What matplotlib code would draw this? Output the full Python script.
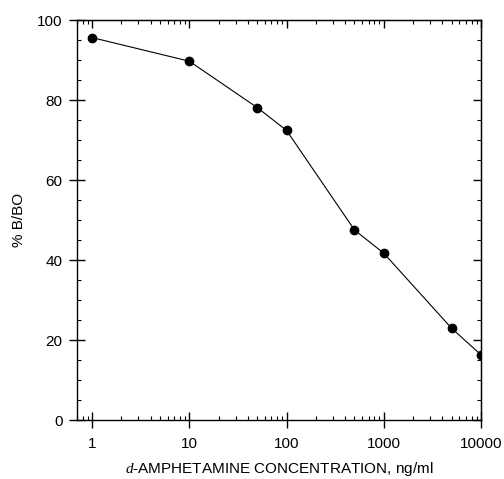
import matplotlib
matplotlib.use("Agg")
import matplotlib.pyplot as plt
from matplotlib.ticker import LogLocator, MultipleLocator, FixedLocator, NullFormatter

plt.rcParams['font.family'] = ['Liberation Sans', 'DejaVu Sans']
plt.rcParams['mathtext.fontset'] = 'custom'
plt.rcParams['mathtext.it'] = 'Liberation Serif:italic'
plt.rcParams['mathtext.rm'] = 'Liberation Sans'

concentration = [1, 10, 50, 100, 500, 1000, 5000, 10000]
percent_b_bo = [95.6, 89.7, 78.1, 72.4, 47.5, 41.7, 22.9, 16.3]
x_ticks = [1, 10, 100, 1000, 10000]
x_tick_labels = ['1', '10', '100', '1000', '10000']
y_ticks = [0, 20, 40, 60, 80, 100]

fig = plt.figure(figsize=(5.04, 4.79), dpi=100)
ax = fig.add_axes([77/504, 59/479, 404/504, 400/479])

ax.plot(concentration, percent_b_bo, color='black', lw=0.8, marker='o',
        markersize=6, markerfacecolor='black', markeredgecolor='black')

ax.set_xscale('log')
ax.set_xlim(0.7, 10000)
ax.set_ylim(0, 100)

ax.xaxis.set_major_locator(FixedLocator(x_ticks))
ax.set_xticklabels(x_tick_labels)
ax.xaxis.set_minor_locator(LogLocator(base=10, subs=range(2, 10)))
ax.xaxis.set_minor_formatter(NullFormatter())
ax.yaxis.set_major_locator(FixedLocator(y_ticks))
ax.yaxis.set_minor_locator(MultipleLocator(5))

for s in ax.spines.values():
    s.set_linewidth(1.0)

ax.tick_params(which='major', direction='inout', length=11, width=1.0,
               labelsize=11, top=False, right=False)
ax.tick_params(axis='x', which='major', pad=7)
ax.tick_params(axis='y', which='major', pad=5)
ax.tick_params(which='minor', direction='in', length=3, width=0.8,
               top=False, right=False)

# top / right inward ticks
secx = ax.secondary_xaxis('top')
secx.xaxis.set_major_locator(FixedLocator(x_ticks))
secx.xaxis.set_minor_locator(LogLocator(base=10, subs=range(2, 10)))
secx.xaxis.set_major_formatter(NullFormatter())
secx.xaxis.set_minor_formatter(NullFormatter())
secx.tick_params(which='major', direction='in', length=5.5, width=1.0)
secx.tick_params(which='minor', direction='in', length=3, width=0.8)

secy = ax.secondary_yaxis('right')
secy.yaxis.set_major_locator(FixedLocator(y_ticks))
secy.yaxis.set_minor_locator(MultipleLocator(5))
secy.yaxis.set_major_formatter(NullFormatter())
secy.tick_params(which='major', direction='in', length=5.5, width=1.0)
secy.tick_params(which='minor', direction='in', length=3, width=0.8)

ax.set_ylabel('% B/BO', fontsize=11, labelpad=8)
ax.set_xlabel(r'$\mathit{d}$-AMPHETAMINE CONCENTRATION, ng/ml', fontsize=11, labelpad=6)

fig.savefig('out.png', dpi=100)
